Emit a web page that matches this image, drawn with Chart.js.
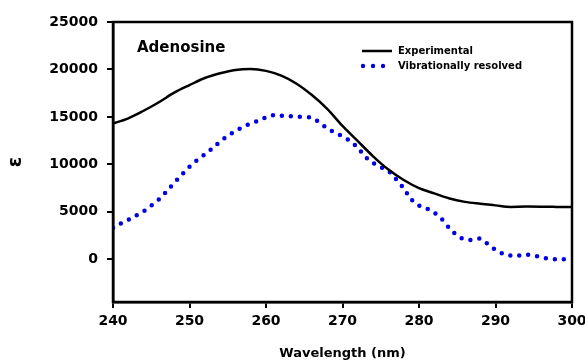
<!DOCTYPE html>
<html>
<head>
<meta charset="utf-8">
<script src="https://cdn.jsdelivr.net/npm/chart.js@4.4.1/dist/chart.umd.min.js"></script>
<style>
    html, body { margin: 0; padding: 0; background: #fff; }
</style>
</head>
<body>
<canvas id="spectrumChart" width="585" height="360"></canvas>
<script>
// values
const expWavelength = [240, 242, 244, 246, 248, 250, 252, 254, 256, 258, 260, 262, 264, 266, 268, 270,
    272, 274, 276, 278, 280, 282, 284, 286, 288, 290, 292, 294, 296, 298, 300];
const expValues = [14300, 14850, 15650, 16550, 17550, 18350, 19100, 19600, 19950, 20050, 19850, 19350,
    18500, 17300, 15850, 14050, 12450, 10850, 9450, 8350, 7500, 6950, 6400, 6050, 5850, 5680,
    5520, 5550, 5540, 5520, 5500];

const vibWavelength = [240, 241, 242, 243, 244, 245, 246, 247, 248, 249, 250, 251, 252, 253, 254, 255,
    256, 257, 258, 259, 260, 261, 262, 263, 264, 265, 266, 267, 268, 269, 270, 271, 272, 273, 274,
    275, 276, 277, 278, 279, 280, 281, 282, 283, 284, 285, 286, 287, 288, 289, 290, 291, 292, 293,
    294, 295, 296, 297, 298, 299, 300];
const vibValues = [3300, 3750, 4150, 4600, 5050, 5650, 6300, 7150, 8050, 8900, 9750, 10450, 11050,
    11700, 12400, 13000, 13500, 13950, 14300, 14600, 14950, 15180, 15130, 15080, 15040, 15000, 14900,
    14400, 13800, 13350, 12950, 12450, 11750, 10800, 10150, 9700, 9300, 8450, 7480, 6300, 5650, 5350,
    4900, 4210, 3250, 2500, 2080, 2050, 2180, 1600, 1000, 580, 380, 380, 500, 400, 200, 50, 0, 0, 0];

const xTicks = [240, 250, 260, 270, 280, 290, 300];
const yTicks = [0, 5000, 10000, 15000, 20000, 25000];
const seriesNames = ['Experimental', 'Vibrationally resolved'];
const moleculeName = 'Adenosine';

const FONT = 'DejaVu Sans';
Chart.defaults.font.family = FONT;
Chart.defaults.color = '#000';

const toPoints = (xs, ys) => xs.map((x, i) => ({ x: x, y: ys[i] }));

// box round the plot + molecule label + hand placed legend
const decorPlugin = {
    id: 'decor',
    afterDatasetsDraw(chart) {
        const { ctx, chartArea } = chart;
        ctx.save();
        ctx.strokeStyle = '#000';
        ctx.lineWidth = 2.5;
        ctx.strokeRect(chartArea.left, chartArea.top, chartArea.right - chartArea.left, chartArea.bottom - chartArea.top);

        ctx.fillStyle = '#000';
        ctx.textBaseline = 'middle';
        ctx.font = 'bold 15px ' + FONT;
        ctx.fillText(moleculeName, 137, 48);

        // legend
        ctx.lineWidth = 2.5;
        ctx.beginPath();
        ctx.moveTo(362, 51);
        ctx.lineTo(392, 51);
        ctx.stroke();
        ctx.fillStyle = '#0000e6';
        [363, 373, 383].forEach(cx => {
            ctx.beginPath();
            ctx.arc(cx, 66, 2.2, 0, Math.PI * 2);
            ctx.fill();
        });
        ctx.fillStyle = '#000';
        ctx.font = 'bold 10px ' + FONT;
        ctx.fillText(seriesNames[0], 398, 51);
        ctx.fillText(seriesNames[1], 398, 66);
        ctx.restore();
    }
};

new Chart(document.getElementById('spectrumChart').getContext('2d'), {
    type: 'line',
    data: {
        datasets: [
            {
                label: seriesNames[0],
                data: toPoints(expWavelength, expValues),
                borderColor: '#000',
                borderWidth: 2.5,
                pointRadius: 0,
                cubicInterpolationMode: 'monotone',
                fill: false,
            },
            {
                label: seriesNames[1],
                data: toPoints(vibWavelength, vibValues),
                borderColor: '#0000e6',
                borderWidth: 4.5,
                borderDash: [0, 9],
                borderCapStyle: 'round',
                pointRadius: 0,
                tension: 0.3,
                fill: false,
            },
        ],
    },
    options: {
        responsive: false,
        animation: false,
        devicePixelRatio: 1,
        layout: { padding: { top: 22, right: 13, left: 0, bottom: 0 } },
        plugins: {
            legend: { display: false },
            tooltip: { enabled: false },
        },
        scales: {
            x: {
                type: 'linear',
                min: 240,
                max: 300,
                afterBuildTicks: scale => { scale.ticks = xTicks.map(v => ({ value: v })); },
                afterFit: scale => {
                    scale.height = 58;
                    scale.paddingLeft = 0;
                    scale.paddingRight = 0;
                },
                grid: { drawOnChartArea: false, tickLength: 6, color: '#000', lineWidth: 2 },
                border: { color: '#000', width: 2.5 },
                ticks: {
                    padding: 5,
                    maxRotation: 0,
                    font: { size: 14, weight: 'bold' },
                    callback: v => String(v),
                },
                title: {
                    display: true,
                    text: 'Wavelength (nm)',
                    font: { size: 13, weight: 'bold', lineHeight: 1.0 },
                    padding: { top: 0, bottom: 0 },
                },
            },
            y: {
                min: -4500,
                max: 25000,
                afterBuildTicks: scale => { scale.ticks = yTicks.map(v => ({ value: v })); },
                afterFit: scale => {
                    scale.width = 113;
                    scale.paddingTop = 0;
                    scale.paddingBottom = 0;
                },
                grid: { drawOnChartArea: false, tickLength: 6, color: '#000', lineWidth: 2 },
                border: { color: '#000', width: 2.5 },
                ticks: {
                    padding: 9,
                    font: { size: 14, weight: 'bold' },
                    callback: v => String(v),
                },
                title: {
                    display: true,
                    text: 'ε',
                    font: { size: 19, weight: 'bold', lineHeight: 1.0 },
                    padding: { top: 7, bottom: 0 },
                },
            },
        },
    },
    plugins: [decorPlugin],
});
</script>
</body>
</html>
